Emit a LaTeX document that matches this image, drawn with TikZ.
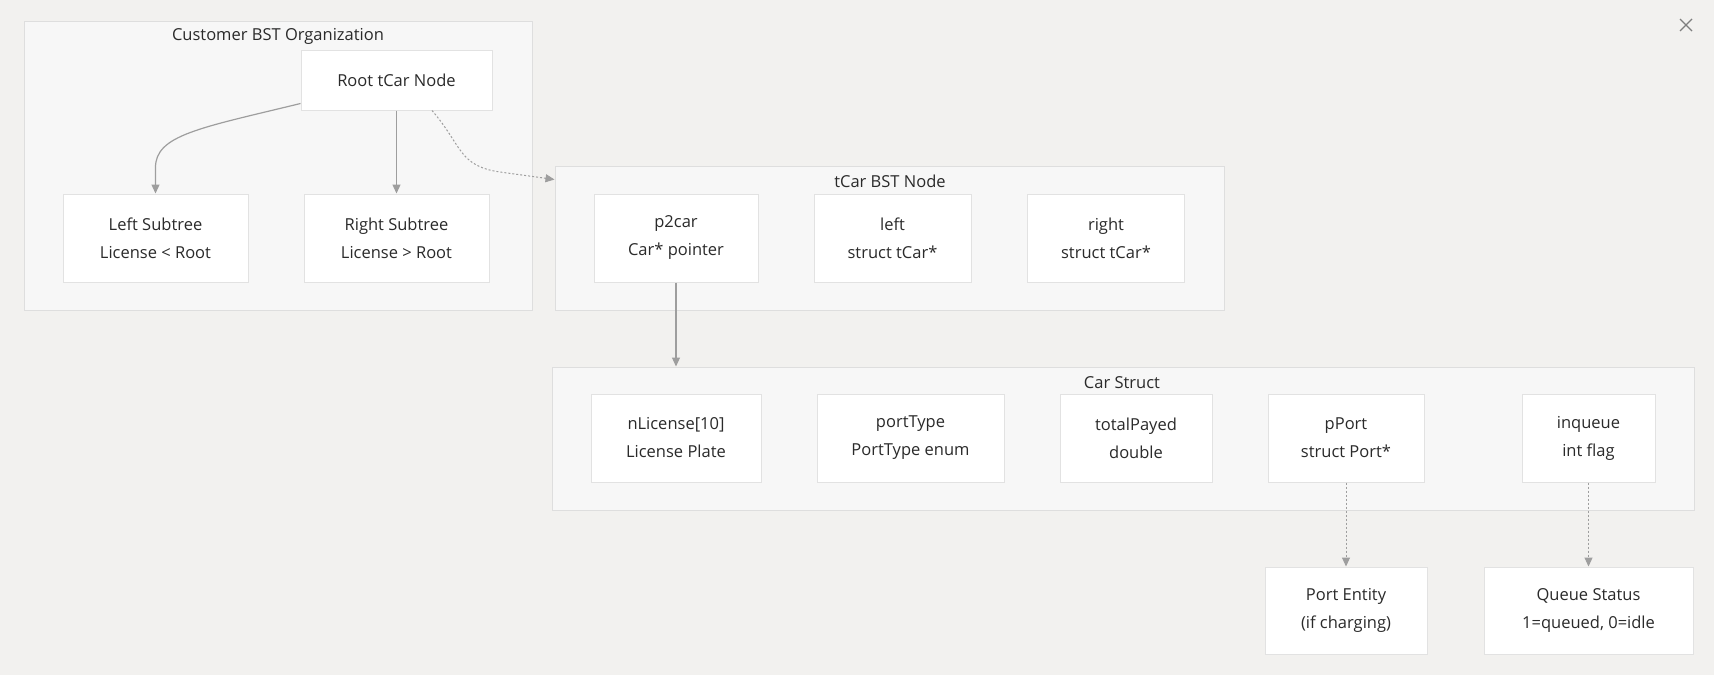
\documentclass[tikz,border=0pt]{standalone}
\usepackage{fontspec}
\setmainfont{Open Sans}
\usetikzlibrary{arrows.meta,calc}
\definecolor{bgc}{HTML}{F2F1EF}
\definecolor{clfill}{HTML}{F7F7F7}
\definecolor{clborder}{HTML}{DEDEDE}
\definecolor{nborder}{HTML}{E2E2E2}
\definecolor{txt}{HTML}{2A2A2A}
\definecolor{edgec}{HTML}{9E9E9E}
\tikzset{
  cluster/.style={draw=clborder, fill=clfill, line width=1pt, inner sep=0pt},
  box/.style={draw=nborder, fill=white, line width=1pt, inner sep=0pt, align=center,
    text=txt, font=\fontsize{16.5}{28}\selectfont},
  ctitle/.style={text=txt, font=\fontsize{16.5}{20}\selectfont, inner sep=0pt},
  solidedge/.style={draw=edgec, line width=1.2pt, -{Triangle[length=9pt,width=8pt]}},
  dotedge/.style={draw=edgec, line width=1pt, dash pattern=on 2pt off 2pt, -{Triangle[length=9pt,width=8pt]}},
}
\begin{document}
\begin{tikzpicture}[x=1pt,y=-1pt]
\fill[bgc] (0,0) rectangle (1714,675);
\useasboundingbox (0,0) rectangle (1714,675);
% clusters
\node[cluster, minimum width=508pt, minimum height=289pt] (cust) at (278,165.5) {};
\node[ctitle] (custt) at (278,36) {Customer BST Organization};
\node[cluster, minimum width=669pt, minimum height=144pt] (tcar) at (889.5,238) {};
\node[ctitle] (tcart) at (890,181) {tCar BST Node};
\node[cluster, minimum width=1142pt, minimum height=143pt] (cars) at (1123,438.5) {};
\node[ctitle] (carst) at (1122,383) {Car Struct};
% nodes
\node[box, minimum width=191pt, minimum height=60pt] (root) at (396.5,80) {Root tCar Node};
\node[box, minimum width=185pt, minimum height=88pt] (lsub) at (155.5,238) {Left Subtree\\License < Root};
\node[box, minimum width=185pt, minimum height=88pt] (rsub) at (396.5,238) {Right Subtree\\License > Root};
\node[box, minimum width=164pt, minimum height=88pt] (p2car) at (676,238) {p2car\\Car* pointer};
\node[box, minimum width=157pt, minimum height=88pt] (leftf) at (892.5,238) {left\\struct tCar*};
\node[box, minimum width=157pt, minimum height=88pt] (rightf) at (1106,238) {right\\struct tCar*};
\node[box, minimum width=170pt, minimum height=88pt] (nlic) at (676,438) {nLicense[10]\\License Plate};
\node[box, minimum width=187pt, minimum height=88pt] (ptype) at (910.5,438) {portType\\PortType enum};
\node[box, minimum width=152pt, minimum height=88pt] (tpay) at (1136,438) {totalPayed\\double};
\node[box, minimum width=156pt, minimum height=88pt] (pport) at (1346,438) {pPort\\struct Port*};
\node[box, minimum width=133pt, minimum height=88pt] (inq) at (1588.5,438) {inqueue\\int flag};
\node[box, minimum width=162pt, minimum height=87pt] (pent) at (1346,610.5) {Port Entity\\(if charging)};
\node[box, minimum width=209pt, minimum height=87pt] (qstat) at (1588.5,610.5) {Queue Status\\1=queued, 0=idle};
% edges
\draw[solidedge] ([yshift=7pt]root.south west) .. controls (200,128) and (155,135) .. (155.5,168) -- (lsub.north);
\draw[solidedge] (root.south) -- (rsub.north);
\draw[dotedge] ([xshift=35.5pt]root.south) .. controls (462,145) and (458,166) .. (500,172) -- ([yshift=-14pt]tcar.north west);
\draw[solidedge] (p2car.south) -- (p2car.south |- cars.north);
\draw[dotedge] (pport.south) -- (pent.north);
\draw[dotedge] (inq.south) -- (qstat.north);
% close mark
\coordinate (xc) at (1686,25);
\draw[edgec!80!black, line width=1.2pt] ($(xc)+(-6,-6)$) -- ($(xc)+(6,6)$) ($(xc)+(-6,6)$) -- ($(xc)+(6,-6)$);
\end{tikzpicture}
\end{document}
